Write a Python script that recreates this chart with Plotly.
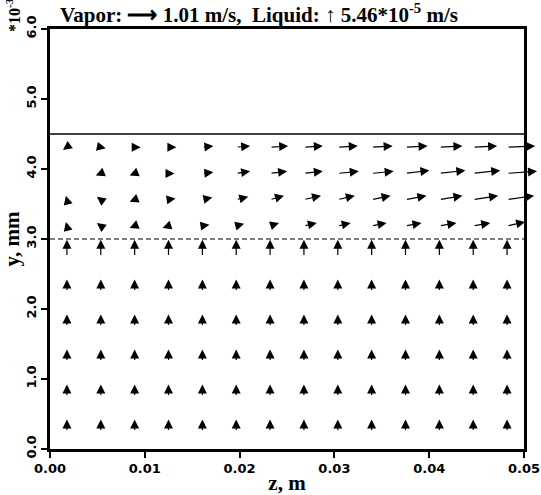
import plotly.graph_objects as go

# ---------------- data ----------------
z_cols = [(i + 0.5) * 0.05 / 14 for i in range(14)]          # m
liq_rows = [0.25, 0.75, 1.25, 1.75, 2.25, 2.75]                # mm
vap_rows = [3.1875, 3.5625, 3.9375, 4.3125]                    # mm
interface_y = 3.0
vapor_top = 4.5

# liquid velocity (vertical), units of 1e-5 m/s, one value per row
liq_v = [5.46, 5.46, 5.46, 5.46, 5.46, 7.6]

# vapor velocity, m/s, rows bottom->top, 14 columns each
vap_u = [
    [-0.05, -0.19, -0.24, -0.29, 0.34, 0.38, 0.43, 0.62, 0.62, 0.72, 0.77, 0.82, 0.82, 0.87],
    [-0.05, -0.19, -0.24, 0.34, 0.48, 0.58, 0.67, 0.82, 0.82, 0.91, 1.01, 1.11, 1.20, 1.30],
    [-0.14, -0.24, -0.24, 0.29, 0.53, 0.67, 0.82, 0.91, 1.01, 1.06, 1.15, 1.25, 1.30, 1.44],
    [-0.19, 0.24, 0.29, 0.38, 0.53, 0.67, 0.87, 0.91, 0.96, 1.01, 1.06, 1.11, 1.15, 1.35],
]
vap_v = [
    [0.19, 0.14, -0.10, -0.10, 0.05, 0.10, 0.14, 0.14, 0.14, 0.14, 0.14, 0.14, 0.14, 0.19],
    [0.19, 0.14, -0.10, 0.05, 0.10, 0.14, 0.19, 0.19, 0.19, 0.19, 0.19, 0.19, 0.19, 0.19],
    [-0.10, -0.10, -0.10, 0.0, 0.05, 0.10, 0.10, 0.10, 0.10, 0.10, 0.14, 0.14, 0.14, 0.10],
    [-0.14, -0.05, 0.0, 0.0, 0.05, 0.05, 0.05, 0.05, 0.05, 0.05, 0.05, 0.05, 0.05, 0.05],
]

x_ticks = [0.0, 0.01, 0.02, 0.03, 0.04, 0.05]
y_ticks = [0.0, 1.0, 2.0, 3.0, 4.0, 5.0, 6.0]

# ---------------- scaling of arrows ----------------
X_RANGE = [0.0, 0.05]
Y_RANGE = [0.0, 6.0]
W, H = 541, 495
ML, MR, MT, MB = 50, 17, 29, 46
pw = W - ML - MR
ph = H - MT - MB
m_per_px = (X_RANGE[1] - X_RANGE[0]) / pw
mm_per_px = (Y_RANGE[1] - Y_RANGE[0]) / ph
VAP_REF = 1.01          # m/s
VAP_REF_PX = 21.0
LIQ_REF = 5.46          # 1e-5 m/s
LIQ_REF_PX = 12.0

fig = go.Figure()
fig.add_trace(go.Scatter(x=[None], y=[None], showlegend=False, hoverinfo="skip"))

annotations = []
arrow_style = dict(showarrow=True, arrowhead=2, arrowsize=1.5, arrowwidth=1.2,
                   arrowcolor="black", text="", xref="x", yref="y",
                   axref="x", ayref="y", standoff=0, startstandoff=0)

for j, yv in enumerate(liq_rows):
    for zc in z_cols:
        dy = liq_v[j] / LIQ_REF * LIQ_REF_PX * mm_per_px
        annotations.append(dict(x=zc, y=yv + dy, ax=zc, ay=yv, **arrow_style))

for j, yv in enumerate(vap_rows):
    for i, zc in enumerate(z_cols):
        s = VAP_REF_PX / VAP_REF
        dz = vap_u[j][i] * s * m_per_px
        dy = vap_v[j][i] * s * mm_per_px
        annotations.append(dict(x=zc + dz, y=yv + dy, ax=zc, ay=yv, **arrow_style))

title_font = dict(family="Liberation Serif", size=21, color="black", weight="bold")
annotations.append(dict(
    text="Vapor: \u27f6 1.01 m/s,  Liquid: \u2191 5.46*10<sup>-5</sup> m/s",
    xref="paper", yref="paper", x=(58 - ML) / pw, y=1.0, xanchor="left", yanchor="bottom",
    yshift=0, showarrow=False, font=title_font))
annotations.append(dict(
    text="*10<sup>-3</sup>", xref="paper", yref="paper", x=-37 / pw, y=1.0,
    xanchor="center", yanchor="middle", yshift=14, textangle=-90, showarrow=False,
    font=dict(family="Liberation Serif", size=16, color="black", weight="bold")))

shapes = [
    dict(type="line", xref="x", yref="y", x0=X_RANGE[0], x1=X_RANGE[1],
         y0=vapor_top, y1=vapor_top, line=dict(color="black", width=1.3)),
    dict(type="line", xref="x", yref="y", x0=X_RANGE[0], x1=X_RANGE[1],
         y0=interface_y, y1=interface_y, line=dict(color="black", width=1.2, dash="5px,3px")),
]

tick_font = dict(family="DejaVu Sans", size=13, color="black", weight="bold")
axis_title_font = dict(family="Liberation Serif", size=21, color="black", weight="bold")

fig.update_layout(
    width=W, height=H,
    margin=dict(l=ML, r=MR, t=MT, b=MB, pad=0, autoexpand=False),
    paper_bgcolor="white", plot_bgcolor="white",
    showlegend=False,
    annotations=annotations,
    shapes=shapes,
    xaxis=dict(range=X_RANGE, tickvals=x_ticks, ticktext=[f"{v:.2f}" for v in x_ticks],
               ticks="outside", ticklen=6, tickwidth=1.5, tickcolor="black",
               showline=True, linecolor="black", linewidth=2.5, mirror=True,
               showgrid=False, zeroline=False, tickfont=tick_font, automargin=False,
               title=dict(text="z, m", font=axis_title_font, standoff=2)),
    yaxis=dict(range=Y_RANGE, tickvals=y_ticks, ticktext=[f"{v:.1f}" for v in y_ticks],
               ticks="outside", ticklen=6, tickwidth=1.5, tickcolor="black",
               showline=True, linecolor="black", linewidth=2.5, mirror=True,
               showgrid=False, zeroline=False, tickfont=tick_font, tickangle=-90,
               automargin=False,
               title=dict(text="y, mm", font=axis_title_font, standoff=2)),
)

fig.write_html("out.html")
